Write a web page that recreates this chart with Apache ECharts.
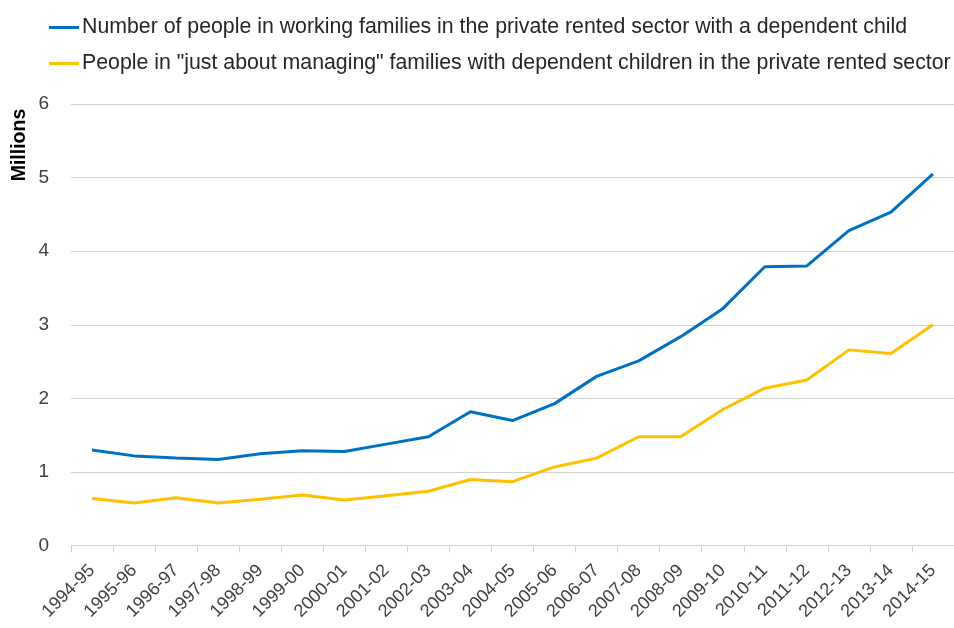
<!DOCTYPE html>
<html>
<head>
<meta charset="utf-8">
<script src="https://cdn.jsdelivr.net/npm/echarts@6/dist/echarts.min.js"></script>
<style>
  html, body { margin: 0; padding: 0; background: #fff; }
  #chart { width: 954px; height: 628px; }
</style>
</head>
<body>
<div id="chart"></div>
<script>
// Financial years shown along the horizontal axis
const years = ['1994-95','1995-96','1996-97','1997-98','1998-99','1999-00','2000-01',
  '2001-02','2002-03','2003-04','2004-05','2005-06','2006-07','2007-08','2008-09',
  '2009-10','2010-11','2011-12','2012-13','2013-14','2014-15'];

// People in working families in the private rented sector with a dependent child (millions)
const workingFamilies = [1.30, 1.22, 1.19, 1.17, 1.25, 1.29, 1.28, 1.38, 1.48, 1.82, 1.70,
  1.93, 2.30, 2.51, 2.84, 3.22, 3.79, 3.80, 4.28, 4.53, 5.05];

// People in "just about managing" families with dependent children, private rented sector (millions)
const jamFamilies = [0.64, 0.58, 0.65, 0.58, 0.63, 0.69, 0.62, 0.68, 0.74, 0.90, 0.87,
  1.07, 1.19, 1.48, 1.48, 1.85, 2.14, 2.25, 2.66, 2.61, 3.00];

const seriesNames = [
  'Number of people in working families in the private rented sector with a dependent child',
  'People in "just about managing" families with dependent children in the private rented sector'
];

const yTicks = { min: 0, max: 6, step: 1 };

const FONT = '"Liberation Sans", Arial, sans-serif';

const chart = echarts.init(document.getElementById('chart'), null, { renderer: 'canvas' });

chart.setOption({
  animation: false,
  backgroundColor: '#ffffff',
  color: ['#0070C0', '#FFC000'],
  textStyle: { fontFamily: FONT },
  legend: {
    orient: 'vertical',
    left: 49,
    top: 17,
    padding: 0,
    icon: 'rect',
    itemWidth: 30,
    itemHeight: 3,
    itemGap: 15,
    textStyle: { fontSize: 21.3, color: '#262626', fontFamily: FONT, padding: [0, 0, 0, -2] },
    data: seriesNames
  },
  grid: { left: 71, top: 104, width: 892, height: 441.7 },
  xAxis: {
    type: 'category',
    data: years,
    boundaryGap: true,
    axisLine: { lineStyle: { color: '#d0d0d0', width: 1 } },
    axisTick: { show: true, length: 7, lineStyle: { color: '#d0d0d0' } },
    axisLabel: {
      rotate: 45,
      interval: 0,
      margin: 22,
      fontSize: 18,
      color: '#404040',
      fontFamily: FONT
    }
  },
  yAxis: {
    type: 'value',
    min: yTicks.min,
    max: yTicks.max,
    interval: yTicks.step,
    axisLine: { show: false },
    axisTick: { show: false },
    splitLine: { lineStyle: { color: '#d0d0d0', width: 1 } },
    axisLabel: { fontSize: 19, color: '#404040', margin: 22, fontFamily: FONT }
  },
  graphic: [{
    type: 'text',
    x: 20,
    y: 145,
    rotation: Math.PI / 2,
    style: {
      text: 'Millions',
      font: 'bold 19.5px ' + FONT,
      fill: '#000000',
      align: 'center',
      verticalAlign: 'middle'
    }
  }],
  series: [
    {
      name: seriesNames[0],
      type: 'line',
      data: workingFamilies,
      symbol: 'none',
      lineStyle: { width: 3, color: '#0070C0' }
    },
    {
      name: seriesNames[1],
      type: 'line',
      data: jamFamilies,
      symbol: 'none',
      lineStyle: { width: 3, color: '#FFC000' }
    }
  ]
});
</script>
</body>
</html>
